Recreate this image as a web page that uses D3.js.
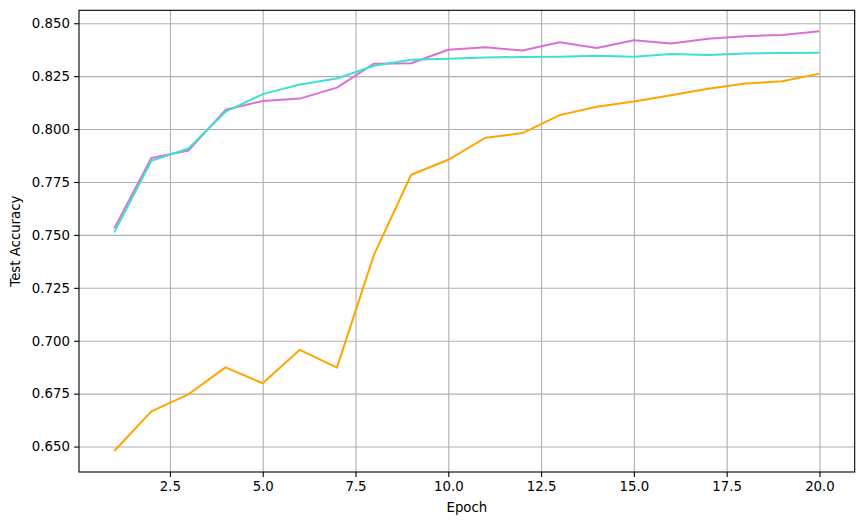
<!DOCTYPE html>
<html>
<head>
  <title>Test Accuracy per Epoch</title>
  <script src="https://d3js.org/d3.v7.min.js"></script>
  <style>
    body { margin: 0; background: #fff; }
    text { font-family: "DejaVu Sans", sans-serif; }
  </style>
</head>
<body>
  <svg id="chart"></svg>
  <script>
    // Data
    const epochs = d3.range(1, 21);
    const orchidAcc = [0.7531, 0.7863, 0.7899, 0.8091, 0.8133, 0.8144, 0.8196, 0.8309, 0.8311, 0.8375,
                       0.8387, 0.8371, 0.8410, 0.8383, 0.8420, 0.8404, 0.8427, 0.8439, 0.8445, 0.8462];
    const orangeAcc = [0.6479, 0.6666, 0.6747, 0.6874, 0.6799, 0.6957, 0.6873, 0.7407, 0.7784, 0.7855,
                       0.7959, 0.7981, 0.8066, 0.8105, 0.8130, 0.8160, 0.8191, 0.8215, 0.8226, 0.8262];
    const turquoiseAcc = [0.7512, 0.7850, 0.7908, 0.8082, 0.8165, 0.8211, 0.8239, 0.8299, 0.8328, 0.8332,
                          0.8338, 0.8341, 0.8342, 0.8346, 0.8342, 0.8355, 0.8350, 0.8357, 0.8360, 0.8361];
    const xTicks = [2.5, 5.0, 7.5, 10.0, 12.5, 15.0, 17.5, 20.0];
    const yTicks = [0.650, 0.675, 0.700, 0.725, 0.750, 0.775, 0.800, 0.825, 0.850];

    const series = [
      {values: orchidAcc, color: "orchid"},
      {values: orangeAcc, color: "orange"},
      {values: turquoiseAcc, color: "turquoise"}
    ];

    const W = 863, H = 525;
    const margin = {top: 10.3, right: 8.3, bottom: 53, left: 79};
    const width = W - margin.left - margin.right,
          height = H - margin.top - margin.bottom;

    const svg = d3.select("#chart")
      .attr("width", W)
      .attr("height", H)
      .append("g")
      .attr("transform", `translate(${margin.left},${margin.top})`);

    // matplotlib style 5% padding
    const xPad = (20 - 1) * 0.05;
    const xScale = d3.scaleLinear().domain([1 - xPad, 20 + xPad]).range([0, width]);
    const allY = orchidAcc.concat(orangeAcc, turquoiseAcc);
    const yMin = d3.min(allY), yMax = d3.max(allY), yPad = (yMax - yMin) * 0.05;
    const yScale = d3.scaleLinear().domain([yMin - yPad, yMax + yPad]).range([height, 0]);

    // Grid
    svg.append("g")
      .attr("transform", `translate(0,${height})`)
      .call(d3.axisBottom(xScale).tickValues(xTicks).tickSize(-height).tickFormat(""))
      .call(g => g.select(".domain").remove())
      .selectAll("line").attr("stroke", "#b0b0b0").attr("stroke-width", 1.1);
    svg.append("g")
      .call(d3.axisLeft(yScale).tickValues(yTicks).tickSize(-width).tickFormat(""))
      .call(g => g.select(".domain").remove())
      .selectAll("line").attr("stroke", "#b0b0b0").attr("stroke-width", 1.1);

    // Lines
    const line = d3.line()
      .x((d, i) => xScale(epochs[i]))
      .y(d => yScale(d));

    svg.selectAll(".series")
      .data(series)
      .enter().append("path")
      .attr("class", "series")
      .attr("d", d => line(d.values))
      .attr("fill", "none")
      .attr("stroke", d => d.color)
      .attr("stroke-width", 2)
      .attr("stroke-linejoin", "round");

    // Axes
    const xAxis = svg.append("g")
      .attr("transform", `translate(0,${height})`)
      .call(d3.axisBottom(xScale).tickValues(xTicks).tickFormat(d3.format(".1f"))
        .tickSize(4.9).tickPadding(4.2).tickSizeOuter(0));
    const yAxis = svg.append("g")
      .call(d3.axisLeft(yScale).tickValues(yTicks).tickFormat(d3.format(".3f"))
        .tickSize(4.9).tickPadding(4.2).tickSizeOuter(0));
    [xAxis, yAxis].forEach(g => {
      g.select(".domain").remove();
      g.selectAll("line").attr("stroke", "#000").attr("stroke-width", 1.1);
      g.selectAll("text").attr("fill", "#000").style("font-size", "13.3px");
    });

    // Frame
    svg.append("rect")
      .attr("width", width)
      .attr("height", height)
      .attr("fill", "none")
      .attr("stroke", "#000")
      .attr("stroke-width", 1.1);

    // Labels
    svg.append("text")
      .attr("x", width / 2)
      .attr("y", height + 40)
      .attr("text-anchor", "middle")
      .style("font-size", "13.3px")
      .text("Epoch");

    svg.append("text")
      .attr("transform", "rotate(-90)")
      .attr("x", -height / 2)
      .attr("y", -margin.left + 20)
      .attr("text-anchor", "middle")
      .style("font-size", "13.3px")
      .text("Test Accuracy");
  </script>
</body>
</html>
